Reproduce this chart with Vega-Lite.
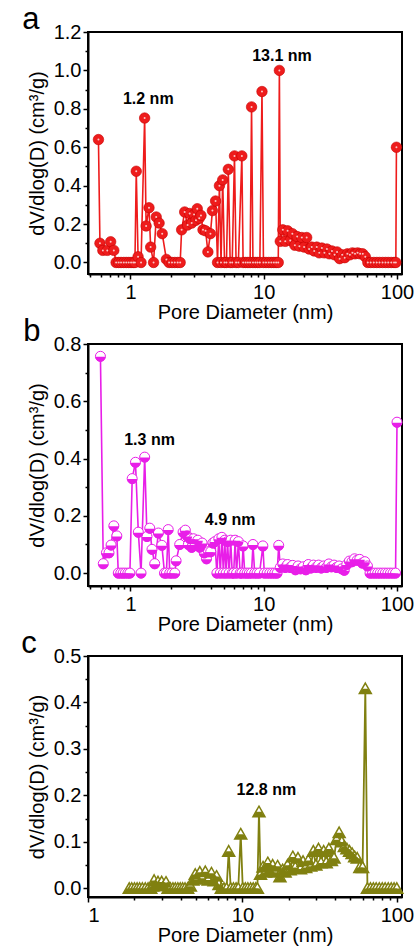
{
  "$schema": "https://vega.github.io/schema/vega-lite/v6.json",
  "padding": {"left": 20, "top": 3, "right": 2, "bottom": 0},
  "spacing": -8,
  "config": {
    "font": "Liberation Sans",
    "view": {"stroke": "black", "strokeWidth": 2},
    "axis": {"domainColor": "black", "domainWidth": 2, "tickColor": "black", "tickWidth": 1.5, "labelFontSize": 20, "titleFontSize": 20, "labelColor": "black", "titleColor": "black", "titleFontWeight": "normal", "grid": false, "labelFont": "Liberation Sans", "titleFont": "Liberation Sans"},
    "title": {"fontSize": 31, "fontWeight": "normal", "anchor": "start", "frame": "bounds", "color": "black", "font": "Liberation Sans"}
  },
  "datasets": {
    "A": [
      {"d":0.575,"v":0.64},{"d":0.59,"v":0.10},{"d":0.62,"v":0.063},{"d":0.67,"v":0.063},{"d":0.71,"v":0.108},{"d":0.75,"v":0.063},
      {"d":0.78,"v":0},{"d":0.815,"v":0},{"d":0.85,"v":0},{"d":0.89,"v":0},{"d":0.93,"v":0},{"d":0.97,"v":0},{"d":1.01,"v":0},{"d":1.05,"v":0},{"d":1.08,"v":0},
      {"d":1.105,"v":0.475},{"d":1.14,"v":0.03},{"d":1.2,"v":0},{"d":1.277,"v":0.752},{"d":1.31,"v":0.19},{"d":1.377,"v":0.285},{"d":1.417,"v":0.08},{"d":1.49,"v":0},
      {"d":1.56,"v":0.237},{"d":1.64,"v":0.205},{"d":1.73,"v":0.15},{"d":1.86,"v":0.016},{"d":1.95,"v":0},{"d":2.05,"v":0},{"d":2.15,"v":0},{"d":2.26,"v":0},{"d":2.36,"v":0},
      {"d":2.42,"v":0.17},{"d":2.55,"v":0.263},{"d":2.68,"v":0.195},{"d":2.78,"v":0.255},{"d":2.88,"v":0.205},{"d":3.0,"v":0.25},{"d":3.1,"v":0.22},{"d":3.17,"v":0.28},{"d":3.28,"v":0.23},{"d":3.38,"v":0.245},
      {"d":3.5,"v":0.17},{"d":3.66,"v":0.165},{"d":3.81,"v":0.055},{"d":3.98,"v":0.15},{"d":4.12,"v":0.27},{"d":4.35,"v":0.32},{"d":4.5,"v":0},{"d":4.65,"v":0.40},{"d":4.78,"v":0},{"d":4.92,"v":0.43},
      {"d":5.08,"v":0},{"d":5.25,"v":0},{"d":5.42,"v":0.485},{"d":5.6,"v":0},{"d":5.8,"v":0},{"d":6.03,"v":0.555},{"d":6.2,"v":0},{"d":6.45,"v":0},{"d":6.85,"v":0.555},
      {"d":7.0,"v":0},{"d":7.3,"v":0},{"d":7.6,"v":0},{"d":7.9,"v":0},{"d":8.1,"v":0.81},{"d":8.3,"v":0},{"d":8.65,"v":0},{"d":9.0,"v":0},{"d":9.35,"v":0},{"d":9.7,"v":0.89},
      {"d":9.95,"v":0},{"d":10.4,"v":0},{"d":10.9,"v":0},{"d":11.4,"v":0},{"d":11.9,"v":0},{"d":12.4,"v":0},{"d":12.85,"v":0},{"d":13.1,"v":1.0},
      {"d":13.3,"v":0.11},{"d":13.9,"v":0.17},{"d":14.5,"v":0.11},{"d":15.1,"v":0.165},{"d":15.8,"v":0.115},{"d":16.4,"v":0.15},{"d":17.1,"v":0.09},{"d":17.8,"v":0.135},{"d":18.5,"v":0.085},{"d":19.3,"v":0.13},
      {"d":20.1,"v":0.08},{"d":21.0,"v":0.13},{"d":21.9,"v":0.07},{"d":22.9,"v":0.08},{"d":23.9,"v":0.06},{"d":25.0,"v":0.08},{"d":26.1,"v":0.05},{"d":27.3,"v":0.075},{"d":28.5,"v":0.05},{"d":29.8,"v":0.07},
      {"d":31.1,"v":0.045},{"d":32.5,"v":0.06},{"d":34.0,"v":0.04},{"d":35.5,"v":0.055},{"d":37.1,"v":0.02},{"d":38.8,"v":0.04},{"d":40.5,"v":0.025},{"d":42.4,"v":0.045},{"d":44.3,"v":0.04},{"d":46.3,"v":0.05},
      {"d":48.4,"v":0.045},{"d":50.6,"v":0.05},{"d":52.9,"v":0.045},{"d":55.3,"v":0.045},{"d":57.8,"v":0.03},{"d":60.4,"v":0},{"d":63.5,"v":0},{"d":67,"v":0},{"d":70.5,"v":0},{"d":74,"v":0},
      {"d":78,"v":0},{"d":82,"v":0},{"d":86,"v":0},{"d":90.5,"v":0},{"d":95,"v":0},{"d":98,"v":0},{"d":99,"v":0.6}
    ],
    "B": [
      {"d":0.595,"v":0.757},{"d":0.625,"v":0.033},{"d":0.66,"v":0.071},{"d":0.69,"v":0.071},{"d":0.715,"v":0.098},{"d":0.75,"v":0.165},{"d":0.79,"v":0.13},
      {"d":0.81,"v":0},{"d":0.845,"v":0},{"d":0.88,"v":0},{"d":0.915,"v":0},{"d":0.955,"v":0},{"d":0.99,"v":0},
      {"d":1.03,"v":0.33},{"d":1.09,"v":0.387},{"d":1.145,"v":0.143},{"d":1.2,"v":0},{"d":1.278,"v":0.405},{"d":1.33,"v":0.128},{"d":1.395,"v":0.157},{"d":1.45,"v":0.083},{"d":1.52,"v":0.033},
      {"d":1.62,"v":0.14},{"d":1.72,"v":0.097},{"d":1.8,"v":0},{"d":1.86,"v":0},{"d":1.92,"v":0.152},{"d":1.97,"v":0},{"d":2.05,"v":0},{"d":2.15,"v":0},{"d":2.2,"v":0.043},{"d":2.34,"v":0.1},
      {"d":2.48,"v":0.143},{"d":2.58,"v":0.15},{"d":2.66,"v":0.13},{"d":2.72,"v":0.1},{"d":2.8,"v":0.12},{"d":2.88,"v":0.09},{"d":2.97,"v":0.12},{"d":3.08,"v":0.1},{"d":3.2,"v":0.115},{"d":3.32,"v":0.09},
      {"d":3.45,"v":0.105},{"d":3.58,"v":0.07},{"d":3.72,"v":0.05},{"d":3.85,"v":0.075},{"d":4.0,"v":0.075},{"d":4.15,"v":0.105},{"d":4.3,"v":0.11},{"d":4.45,"v":0},{"d":4.6,"v":0.12},{"d":4.72,"v":0},
      {"d":4.85,"v":0.125},{"d":4.98,"v":0},{"d":5.1,"v":0.115},{"d":5.22,"v":0},{"d":5.35,"v":0.11},{"d":5.5,"v":0},{"d":5.65,"v":0.115},{"d":5.8,"v":0},{"d":5.95,"v":0},{"d":6.1,"v":0.115},
      {"d":6.25,"v":0},{"d":6.45,"v":0.11},{"d":6.65,"v":0},{"d":6.85,"v":0},{"d":7.0,"v":0.095},{"d":7.2,"v":0},{"d":7.5,"v":0},{"d":7.8,"v":0},{"d":8.1,"v":0},{"d":8.3,"v":0.1},
      {"d":8.55,"v":0},{"d":8.9,"v":0},{"d":9.3,"v":0},{"d":9.85,"v":0.095},{"d":10.1,"v":0},{"d":10.6,"v":0},{"d":11.1,"v":0},{"d":11.6,"v":0},{"d":12.1,"v":0},{"d":12.6,"v":0},{"d":12.95,"v":0.097},
      {"d":13.3,"v":0.02},{"d":13.9,"v":0.032},{"d":14.5,"v":0.02},{"d":15.1,"v":0.03},{"d":15.8,"v":0.02},{"d":16.5,"v":0.027},{"d":17.3,"v":0.012},{"d":18.1,"v":0.025},{"d":18.9,"v":0.015},{"d":19.8,"v":0.022},
      {"d":20.7,"v":0.012},{"d":21.6,"v":0.03},{"d":22.6,"v":0.018},{"d":23.6,"v":0.028},{"d":24.7,"v":0.02},{"d":25.8,"v":0.028},{"d":27.0,"v":0.018},{"d":28.2,"v":0.025},{"d":29.5,"v":0.02},{"d":30.8,"v":0.032},
      {"d":32.2,"v":0.022},{"d":33.7,"v":0.028},{"d":35.2,"v":0.02},{"d":36.8,"v":0.025},{"d":38.5,"v":0.015},{"d":40.2,"v":0.01},{"d":42.0,"v":0.03},{"d":43.9,"v":0.042},{"d":45.9,"v":0.04},{"d":48.0,"v":0.05},
      {"d":50.2,"v":0.045},{"d":52.5,"v":0.048},{"d":54.9,"v":0.035},{"d":57.4,"v":0.04},{"d":60.0,"v":0.025},{"d":62.7,"v":0},{"d":65.5,"v":0},{"d":68.5,"v":0},{"d":71.6,"v":0},{"d":74.8,"v":0},
      {"d":78.2,"v":0},{"d":81.7,"v":0},{"d":85.4,"v":0},{"d":89.3,"v":0},{"d":93.3,"v":0},{"d":97.5,"v":0},{"d":100,"v":0.527}
    ],
    "C": [
      {"d":1.85,"v":0},{"d":1.92,"v":0},{"d":2.0,"v":0},{"d":2.08,"v":0},{"d":2.16,"v":0},{"d":2.25,"v":0},{"d":2.35,"v":0},{"d":2.45,"v":0},{"d":2.55,"v":0},
      {"d":2.62,"v":0.005},{"d":2.68,"v":0.017},{"d":2.76,"v":0.006},{"d":2.84,"v":0.014},{"d":2.92,"v":0.007},{"d":3.0,"v":0.014},{"d":3.1,"v":0.006},{"d":3.2,"v":0.013},
      {"d":3.3,"v":0},{"d":3.42,"v":0},{"d":3.55,"v":0},{"d":3.68,"v":0},{"d":3.82,"v":0},{"d":3.96,"v":0},{"d":4.1,"v":0},{"d":4.25,"v":0},{"d":4.42,"v":0},
      {"d":4.6,"v":0.005},{"d":4.78,"v":0.018},{"d":4.95,"v":0.03},{"d":5.1,"v":0.02},{"d":5.3,"v":0.035},{"d":5.5,"v":0.022},{"d":5.75,"v":0.036},{"d":6.0,"v":0.018},{"d":6.3,"v":0.033},{"d":6.55,"v":0.016},
      {"d":6.8,"v":0.026},{"d":7.05,"v":0.008},{"d":7.3,"v":0},{"d":7.6,"v":0},{"d":7.9,"v":0},{"d":8.15,"v":0.08},{"d":8.4,"v":0},{"d":8.75,"v":0},{"d":9.1,"v":0},{"d":9.4,"v":0},{"d":9.75,"v":0.117},
      {"d":10.05,"v":0},{"d":10.45,"v":0},{"d":10.85,"v":0},{"d":11.3,"v":0},{"d":11.75,"v":0},{"d":12.2,"v":0},{"d":12.5,"v":0},{"d":12.8,"v":0.165},
      {"d":13.1,"v":0.03},{"d":13.6,"v":0.046},{"d":14.1,"v":0.035},{"d":14.6,"v":0.055},{"d":15.1,"v":0.04},{"d":15.7,"v":0.05},{"d":16.3,"v":0.035},{"d":16.9,"v":0.048},{"d":17.5,"v":0.025},{"d":18.2,"v":0.04},
      {"d":18.9,"v":0.035},{"d":19.6,"v":0.05},{"d":20.4,"v":0.04},{"d":21.2,"v":0.068},{"d":22.0,"v":0.045},{"d":22.9,"v":0.065},{"d":23.8,"v":0.042},{"d":24.7,"v":0.058},{"d":25.7,"v":0.045},{"d":26.7,"v":0.06},
      {"d":27.7,"v":0.048},{"d":28.8,"v":0.08},{"d":29.9,"v":0.05},{"d":31.1,"v":0.085},{"d":32.3,"v":0.055},{"d":33.6,"v":0.08},{"d":34.9,"v":0.055},{"d":36.3,"v":0.085},{"d":37.7,"v":0.06},{"d":39.2,"v":0.065},
      {"d":40.7,"v":0.105},{"d":42.3,"v":0.12},{"d":44.0,"v":0.1},{"d":45.7,"v":0.09},{"d":47.5,"v":0.085},{"d":49.4,"v":0.08},{"d":51.3,"v":0.075},{"d":53.3,"v":0.068},{"d":55.4,"v":0.065},{"d":57.6,"v":0.045},
      {"d":60.0,"v":0.045},{"d":62.5,"v":0.43},{"d":64.5,"v":0},{"d":67.5,"v":0},{"d":70.5,"v":0},{"d":73.5,"v":0},{"d":77,"v":0},{"d":80.5,"v":0},{"d":84,"v":0},{"d":88,"v":0},{"d":92,"v":0},{"d":96,"v":0},{"d":100,"v":0}
    ],
    "LA": [{"d":1.36,"v":0.85,"t":"1.2 nm"},{"d":13.7,"v":1.075,"t":"13.1 nm"}],
    "LB": [{"d":1.39,"v":0.464,"t":"1.3 nm"},{"d":5.6,"v":0.184,"t":"4.9 nm"}],
    "LC": [{"d":14.3,"v":0.211,"t":"12.8 nm"}]
  },
  "vconcat": [
    {
      "width": 314, "height": 242,
      "title": {"text": "a", "dx": -5, "offset": -14},
      "layer": [
        {"data": {"name": "A"}, "mark": {"type": "line", "color": "#ee1c1c", "strokeWidth": 1.6},
         "encoding": {
           "x": {"field": "d", "type": "quantitative", "scale": {"type": "log", "domain": [0.48, 109], "nice": false},
                 "axis": {"orient": "bottom", "values": [1, 10, 100], "format": "d", "tickSize": 5, "labelPadding": 3, "title": "Pore Diameter (nm)", "titlePadding": 0}},
           "y": {"field": "v", "type": "quantitative", "scale": {"domain": [-0.06, 1.2], "nice": false, "zero": false},
                 "axis": {"orient": "left", "values": [0, 0.2, 0.4, 0.6, 0.8, 1.0, 1.2], "format": ".1f", "tickSize": 5, "labelPadding": 2, "title": "dV/dlog(D) (cm³/g)", "titlePadding": 6}}
         }},
        {"data": {"name": "A"}, "mark": {"type": "point", "filled": true, "color": "#ee1c1c", "size": 110, "opacity": 1, "stroke": "#c80000", "strokeWidth": 0.6},
         "encoding": {"x": {"field": "d", "type": "quantitative", "axis": null}, "y": {"field": "v", "type": "quantitative", "axis": null}}},
        {"data": {"name": "A"}, "mark": {"type": "point", "filled": true, "color": "white", "size": 4, "opacity": 0.75},
         "encoding": {"x": {"field": "d", "type": "quantitative", "axis": null}, "y": {"field": "v", "type": "quantitative", "axis": null}}},
        {"data": {"name": "LA"}, "mark": {"type": "text", "fontWeight": "bold", "fontSize": 16, "color": "black"},
         "encoding": {"x": {"field": "d", "type": "quantitative", "axis": null}, "y": {"field": "v", "type": "quantitative", "axis": null}, "text": {"field": "t"}}},
        {"data": {"name": "A"}, "mark": {"type": "point", "opacity": 0},
         "encoding": {
           "x": {"field": "d", "type": "quantitative", "axis": {"orient": "bottom", "values": [0.5,0.6,0.7,0.8,0.9,2,3,4,5,6,7,8,9,20,30,40,50,60,70,80,90], "labels": false, "domain": false, "tickSize": 3, "title": null}},
           "y": {"field": "v", "type": "quantitative", "axis": {"orient": "left", "values": [0.1,0.3,0.5,0.7,0.9,1.1], "labels": false, "domain": false, "tickSize": 3, "title": null}}
         }}
      ],
      "resolve": {"axis": {"x": "independent", "y": "independent"}}
    },
    {
      "width": 314, "height": 242,
      "title": {"text": "b", "dx": -4, "offset": -14},
      "layer": [
        {"data": {"name": "B"}, "mark": {"type": "line", "color": "#e81ee8", "strokeWidth": 1.6},
         "encoding": {
           "x": {"field": "d", "type": "quantitative", "scale": {"type": "log", "domain": [0.48, 109], "nice": false},
                 "axis": {"orient": "bottom", "values": [1, 10, 100], "format": "d", "tickSize": 5, "labelPadding": 3, "title": "Pore Diameter (nm)", "titlePadding": 0}},
           "y": {"field": "v", "type": "quantitative", "scale": {"domain": [-0.045, 0.8], "nice": false, "zero": false},
                 "axis": {"orient": "left", "values": [0, 0.2, 0.4, 0.6, 0.8], "format": ".1f", "tickSize": 5, "labelPadding": 2, "title": "dV/dlog(D) (cm³/g)", "titlePadding": 6}}
         }},
        {"data": {"name": "B"}, "mark": {"type": "point", "filled": true, "fill": "white", "stroke": "#e81ee8", "strokeWidth": 1, "size": 100, "opacity": 1},
         "encoding": {"x": {"field": "d", "type": "quantitative", "axis": null}, "y": {"field": "v", "type": "quantitative", "axis": null}}},
        {"data": {"name": "B"}, "mark": {"type": "point", "filled": true, "color": "#e81ee8", "shape": "M -1 0.1 A 1 1 0 0 0 1 0.1 Z", "size": 100, "opacity": 1},
         "encoding": {"x": {"field": "d", "type": "quantitative", "axis": null}, "y": {"field": "v", "type": "quantitative", "axis": null}}},
        {"data": {"name": "LB"}, "mark": {"type": "text", "fontWeight": "bold", "fontSize": 16, "color": "black"},
         "encoding": {"x": {"field": "d", "type": "quantitative", "axis": null}, "y": {"field": "v", "type": "quantitative", "axis": null}, "text": {"field": "t"}}},
        {"data": {"name": "B"}, "mark": {"type": "point", "opacity": 0},
         "encoding": {
           "x": {"field": "d", "type": "quantitative", "axis": {"orient": "bottom", "values": [0.5,0.6,0.7,0.8,0.9,2,3,4,5,6,7,8,9,20,30,40,50,60,70,80,90], "labels": false, "domain": false, "tickSize": 3, "title": null}},
           "y": {"field": "v", "type": "quantitative", "axis": {"orient": "left", "values": [0.1,0.3,0.5,0.7], "labels": false, "domain": false, "tickSize": 3, "title": null}}
         }}
      ],
      "resolve": {"axis": {"x": "independent", "y": "independent"}}
    },
    {
      "width": 314, "height": 241,
      "title": {"text": "c", "dx": -6, "offset": -14},
      "layer": [
        {"data": {"name": "C"}, "mark": {"type": "line", "color": "#808010", "strokeWidth": 1.8},
         "encoding": {
           "x": {"field": "d", "type": "quantitative", "scale": {"type": "log", "domain": [1, 108], "nice": false},
                 "axis": {"orient": "bottom", "values": [1, 10, 100], "format": "d", "tickSize": 5, "labelPadding": 3, "title": "Pore Diameter (nm)", "titlePadding": 0}},
           "y": {"field": "v", "type": "quantitative", "scale": {"domain": [-0.019, 0.5], "nice": false, "zero": false},
                 "axis": {"orient": "left", "values": [0, 0.1, 0.2, 0.3, 0.4, 0.5], "format": ".1f", "tickSize": 5, "labelPadding": 2, "title": "dV/dlog(D) (cm³/g)", "titlePadding": 6}}
         }},
        {"data": {"name": "C"}, "mark": {"type": "point", "filled": true, "fill": "white", "stroke": "#808010", "strokeWidth": 1.5, "shape": "M 0 -0.9 L 1 0.85 L -1 0.85 Z", "size": 144, "opacity": 1},
         "encoding": {"x": {"field": "d", "type": "quantitative", "axis": null}, "y": {"field": "v", "type": "quantitative", "axis": null}}},
        {"data": {"name": "C"}, "mark": {"type": "point", "filled": true, "color": "#808010", "shape": "M -0.45 0.05 L 0.45 0.05 L 1 0.85 L -1 0.85 Z", "size": 144, "opacity": 1},
         "encoding": {"x": {"field": "d", "type": "quantitative", "axis": null}, "y": {"field": "v", "type": "quantitative", "axis": null}}},
        {"data": {"name": "LC"}, "mark": {"type": "text", "fontWeight": "bold", "fontSize": 16, "color": "black"},
         "encoding": {"x": {"field": "d", "type": "quantitative", "axis": null}, "y": {"field": "v", "type": "quantitative", "axis": null}, "text": {"field": "t"}}},
        {"data": {"name": "C"}, "mark": {"type": "point", "opacity": 0},
         "encoding": {
           "x": {"field": "d", "type": "quantitative", "axis": {"orient": "bottom", "values": [2,3,4,5,6,7,8,9,20,30,40,50,60,70,80,90], "labels": false, "domain": false, "tickSize": 3, "title": null}},
           "y": {"field": "v", "type": "quantitative", "axis": {"orient": "left", "values": [0.05,0.15,0.25,0.35,0.45], "labels": false, "domain": false, "tickSize": 3, "title": null}}
         }}
      ],
      "resolve": {"axis": {"x": "independent", "y": "independent"}}
    }
  ]
}
